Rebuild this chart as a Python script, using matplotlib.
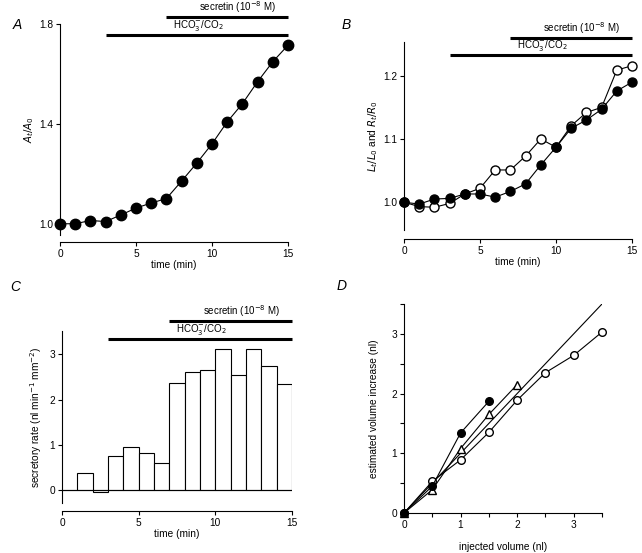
import numpy as np
import matplotlib
matplotlib.use('Agg')
import matplotlib.pyplot as plt
from matplotlib.ticker import MultipleLocator

plt.rcParams['font.family'] = ['Liberation Sans', 'DejaVu Sans']
plt.rcParams['font.size'] = 7.3
plt.rcParams['axes.linewidth'] = 0.8

# Panel A
t = np.arange(16)
area = [1.0, 1.0, 1.013, 1.009, 1.035, 1.063, 1.083, 1.101, 1.171, 1.243,
        1.32, 1.408, 1.481, 1.569, 1.649, 1.715]

# Panel B
len_filled = [1.0, 0.997, 1.005, 1.006, 1.013, 1.013, 1.008, 1.017, 1.029, 1.059,
              1.087, 1.117, 1.13, 1.147, 1.176, 1.19]
len_open = [1.0, 0.993, 0.992, 0.998, 1.013, 1.022, 1.051, 1.051, 1.073, 1.1,
            1.087, 1.121, 1.142, 1.15, 1.209, 1.216]

# Panel C
bar_left = np.arange(15)
rate = [0.0, 0.38, -0.03, 0.76, 0.96, 0.82, 0.61, 2.36, 2.61, 2.64,
        3.12, 2.54, 3.12, 2.74, 2.34]

# Panel D
inj_open = [0, 0.5, 1, 1.5, 2, 2.5, 3, 3.5]
est_open = [0, 0.53, 0.89, 1.35, 1.89, 2.35, 2.64, 3.03]
inj_tri = [0, 0.5, 1, 1.5, 2]
est_tri = [0, 0.39, 1.08, 1.65, 2.15]
inj_fill = [0, 0.5, 1, 1.5]
est_fill = [0, 0.45, 1.34, 1.87]
ident = [0, 3.5]

W, H = 642, 553
fig = plt.figure(figsize=(W / 100, H / 100), dpi=100)


def box(l, r, top, bot):
    return [l / W, (H - bot) / H, (r - l) / W, (bot - top) / H]


def time_axes(ax, out_px, hco3_y, sec_y):
    ax.spines['top'].set_visible(False)
    ax.spines['right'].set_visible(False)
    ax.spines['bottom'].set_position(('outward', out_px * 0.72))
    ax.spines['bottom'].set_bounds(0, 15)
    ax.set_xlim(0, 15)
    ax.set_xticks([0, 5, 10, 15])
    ax.set_xlabel('time (min)', labelpad=1)
    ax.tick_params(length=3, width=0.8, pad=2)
    tr = ax.get_xaxis_transform()
    ax.plot([3, 15], [hco3_y, hco3_y], color='black', lw=2.2, transform=tr,
            clip_on=False, solid_capstyle='butt')
    ax.plot([7, 15], [sec_y, sec_y], color='black', lw=2.2, transform=tr,
            clip_on=False, solid_capstyle='butt')
    ax.text(9.1, hco3_y + 0.01, 'HCO$_3^{-}$/CO$_2$', transform=tr,
            ha='center', va='bottom', fontsize=7)
    ax.text(11.7, sec_y + 0.01, 'secretin (10$^{-8}$ M)', transform=tr,
            ha='center', va='bottom', fontsize=7)


# A
axA = fig.add_axes(box(60, 288, 24, 235))
axA.plot(t, area, color='black', lw=0.8, marker='o', ms=7.5,
         mfc='black', mec='black', clip_on=False)
axA.set_ylim(0.955, 1.8)
axA.set_yticks([1.0, 1.4, 1.8])
axA.set_ylabel('$A_t/A_0$', labelpad=2)
time_axes(axA, 7, 0.948, 1.035)
fig.text(13 / W, 1 - 25 / H, 'A', fontsize=10, style='italic', va='center')

# B
axB = fig.add_axes(box(404, 632, 42, 230))
axB.plot(t, len_open, color='black', lw=0.8, marker='o', ms=6.5,
         mfc='white', mec='black', clip_on=False)
axB.plot(t, len_filled, color='black', lw=0.8, marker='o', ms=6.5,
         mfc='black', mec='black', clip_on=False)
axB.set_ylim(0.956, 1.2535)
axB.set_yticks([1.0, 1.1, 1.2])
axB.set_ylabel('$L_t/L_0$ and $R_t/R_0$', labelpad=2)
time_axes(axB, 9, 0.931, 1.02)
fig.text(342 / W, 1 - 25 / H, 'B', fontsize=10, style='italic', va='center')

# C
axC = fig.add_axes(box(62, 292, 331, 503))
axC.bar(bar_left, rate, width=1, align='edge', facecolor='white',
        edgecolor='black', lw=0.8)
axC.plot([0, 15], [0, 0], color='black', lw=0.8)
axC.set_ylim(-0.28, 3.51)
axC.set_yticks([0, 1, 2, 3])
axC.set_ylabel('secretory rate (nl min$^{-1}$ mm$^{-2}$)', labelpad=4)
time_axes(axC, 8, 0.955, 1.058)
fig.text(10 / W, 1 - 287 / H, 'C', fontsize=10, style='italic', va='center')

# D
axD = fig.add_axes(box(404, 602, 304, 513))
axD.plot(ident, ident, color='black', lw=0.8)
axD.plot(inj_open, est_open, color='black', lw=0.8, marker='o', ms=5.5,
         mfc='white', mec='black', clip_on=False)
axD.plot(inj_tri, est_tri, color='black', lw=0.8, marker='^', ms=5.5,
         mfc='white', mec='black', clip_on=False)
axD.plot(inj_fill, est_fill, color='black', lw=0.8, marker='o', ms=5.5,
         mfc='black', mec='black', clip_on=False)
axD.set_xlim(0, 3.5)
axD.set_ylim(0, 3.5)
axD.spines['top'].set_visible(False)
axD.spines['right'].set_visible(False)
axD.set_xticks([0, 1, 2, 3])
axD.set_yticks([0, 1, 2, 3])
axD.xaxis.set_minor_locator(MultipleLocator(0.5))
axD.yaxis.set_minor_locator(MultipleLocator(0.5))
axD.tick_params(which='both', length=3, width=0.8, pad=2)
axD.set_xlabel('injected volume (nl)', labelpad=9)
axD.set_ylabel('estimated volume increase (nl)', labelpad=9)
fig.text(337 / W, 1 - 286 / H, 'D', fontsize=10, style='italic', va='center')

fig.savefig('out.png', dpi=100)
